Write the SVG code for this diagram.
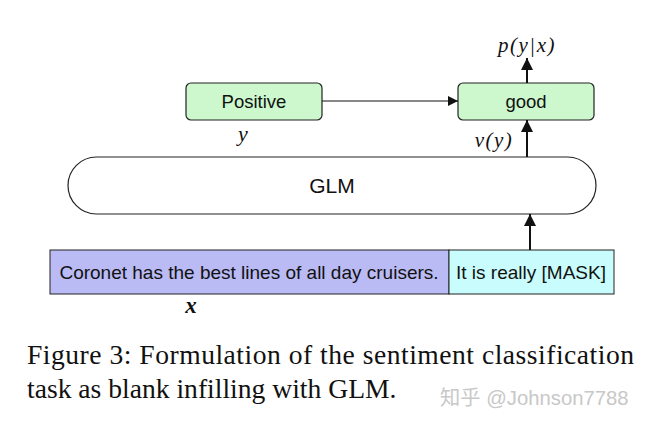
<svg xmlns="http://www.w3.org/2000/svg" width="646" height="426" viewBox="0 0 646 426">
<style>
.box{fill:#cdf7cd;stroke:#222;stroke-width:1.2}
.sans{font-family:"Liberation Sans",Arial,sans-serif;fill:#111}
.math{font-family:"Liberation Serif","Times New Roman",serif;font-style:italic;fill:#111}
.cap{font-family:"Liberation Serif","Times New Roman",serif;font-size:27.6px;fill:#111}
.line{stroke:#111;stroke-width:1.2;fill:none}
.thick{stroke:#111;stroke-width:2;fill:none}
</style>
<defs>
<marker id="ah" viewBox="0 0 10 10" refX="10" refY="5" markerWidth="10" markerHeight="10" markerUnits="userSpaceOnUse" orient="auto">
<path d="M0,0 L10,5 L0,10 z" fill="#111"/>
</marker>
<marker id="ahb" viewBox="0 0 10 10" refX="10" refY="5" markerWidth="12" markerHeight="12" markerUnits="userSpaceOnUse" orient="auto">
<path d="M0,0 L10,5 L0,10 z" fill="#111"/>
</marker>
</defs>
<rect width="646" height="426" fill="#fff"/>
<g id="positive">
<rect class="box" x="186" y="83" width="136" height="37" rx="5"/>
<text class="sans" x="254" y="108" font-size="18.5" text-anchor="middle">Positive</text>
<text class="math" x="243" y="141" font-size="22" text-anchor="middle">y</text>
</g>
<g id="good">
<rect class="box" x="458" y="83" width="136" height="37" rx="5"/>
<text class="sans" x="526" y="108" font-size="18.5" text-anchor="middle">good</text>
</g>
<g id="glm">
<rect x="68" y="157" width="528" height="57" rx="28.5" fill="#fff" stroke="#222" stroke-width="1.2"/>
<text class="sans" x="332" y="193" font-size="21" text-anchor="middle">GLM</text>
</g>
<g id="input">
<rect x="50" y="250" width="399" height="44" fill="#babaf5" stroke="#222" stroke-width="1"/>
<rect x="449" y="250" width="165" height="44" fill="#c9fdfd" stroke="#222" stroke-width="1"/>
<text class="sans" x="249" y="279" font-size="19" text-anchor="middle">Coronet has the best lines of all day cruisers.</text>
<text class="sans" x="531" y="279" font-size="19" text-anchor="middle">It is really [MASK]</text>
<text x="191" y="313" font-size="23" font-weight="bold" font-style="italic" font-family="Liberation Serif,serif" fill="#111" text-anchor="middle">x</text>
</g>
<g id="labels">
<text class="math" x="527" y="52" font-size="21" text-anchor="middle" letter-spacing="1.5">p(y|x)</text>
<text class="math" x="494" y="147" font-size="21" text-anchor="middle" letter-spacing="1.5">v(y)</text>
</g>
<g id="connectors">
<line class="line" x1="322" y1="101" x2="458" y2="101" marker-end="url(#ah)"/>
<line class="thick" x1="527" y1="83" x2="527" y2="58" marker-end="url(#ahb)"/>
<line class="thick" x1="527" y1="157" x2="527" y2="120" marker-end="url(#ahb)"/>
<line class="thick" x1="530" y1="250" x2="530" y2="214" marker-end="url(#ahb)"/>
</g>
<g id="caption">
<text class="cap" x="27" y="364" textLength="607" lengthAdjust="spacing">Figure 3: Formulation of the sentiment classification</text>
<text class="cap" x="27" y="398">task as blank infilling with GLM.</text>
<text x="440" y="405" font-size="20.3" font-family="Liberation Sans,Noto Sans CJK SC,sans-serif" fill="#c8c8c8">知乎 @Johnson7788</text>
</g>
</svg>
